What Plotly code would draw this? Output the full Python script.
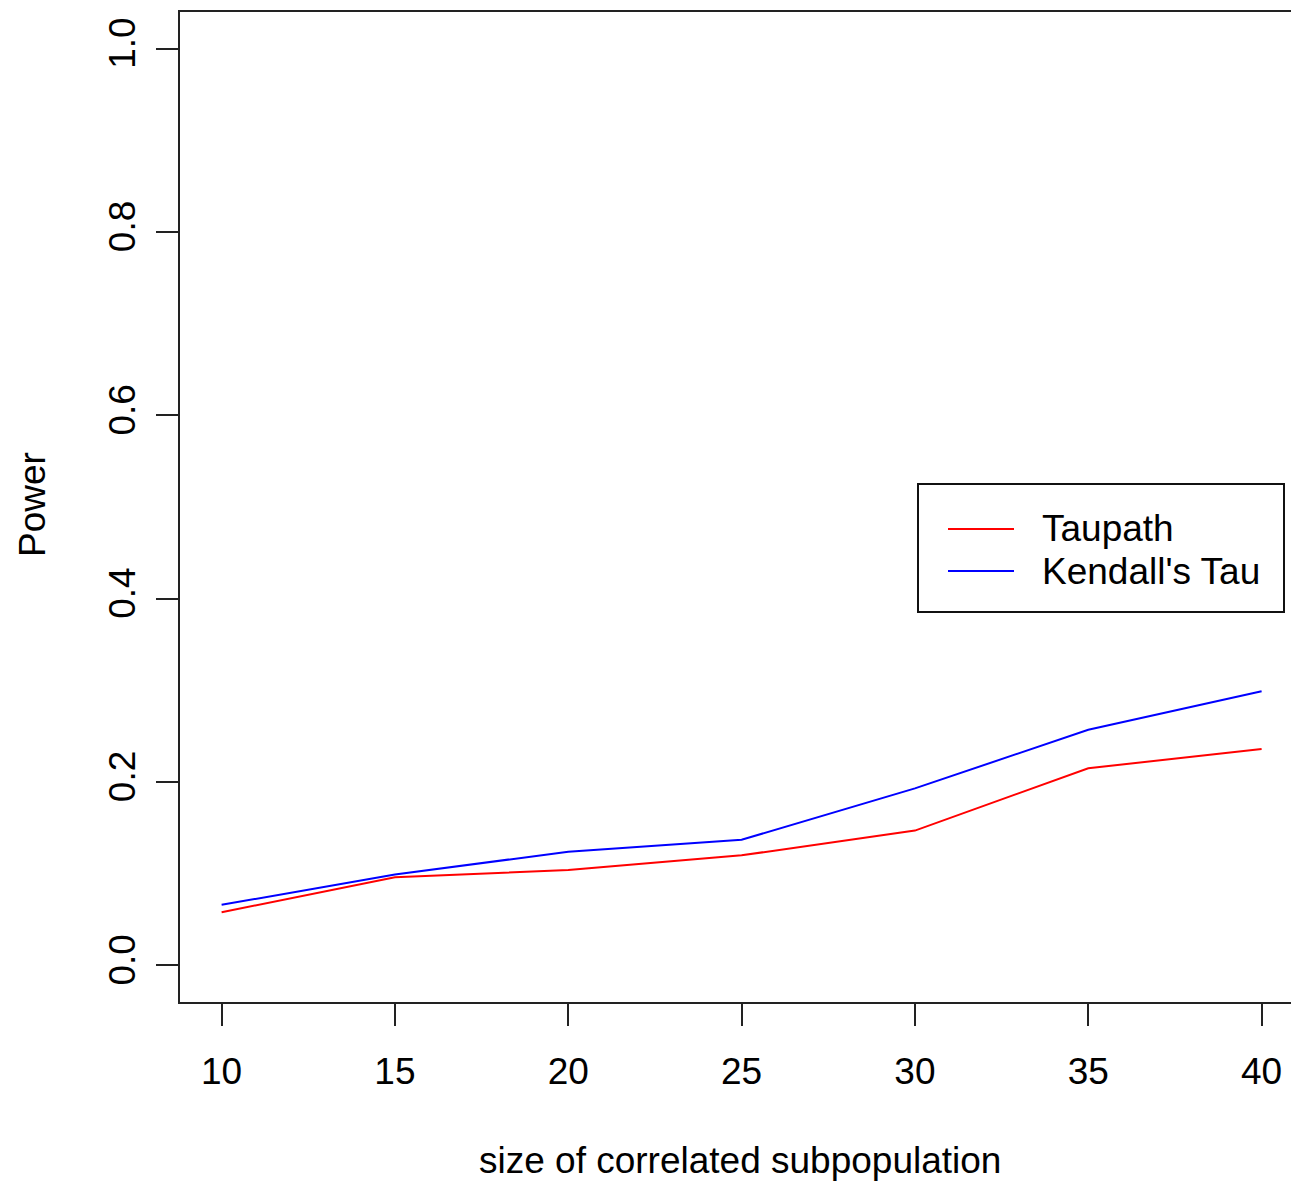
import plotly.graph_objects as go

# Power of the two tests versus size of the correlated subpopulation
subpop_size = [10, 15, 20, 25, 30, 35, 40]
power_taupath = [0.058, 0.096, 0.104, 0.120, 0.147, 0.215, 0.236]
power_kendall = [0.066, 0.099, 0.124, 0.137, 0.193, 0.257, 0.299]
series_names = ["Taupath", "Kendall's Tau"]
series_colors = ["#ff0000", "#0000ff"]
y_ticks = [0.0, 0.2, 0.4, 0.6, 0.8, 1.0]
y_tick_text = ["0.0", "0.2", "0.4", "0.6", "0.8", "1.0"]

W, H = 1291, 1181
L, R, T, B = 180, 0, 12, 179
PW, PH = W - L - R, H - T - B
FONT = dict(family="Liberation Sans, Arial, sans-serif", size=37, color="#000000")


def px_x(px):
    return (px - L) / PW


def px_y(py):
    return (H - B - py) / PH


fig = go.Figure()
for vals, name, col in zip([power_taupath, power_kendall], series_names, series_colors):
    fig.add_trace(go.Scatter(x=subpop_size, y=vals, mode="lines", name=name,
                             line=dict(color=col, width=2), showlegend=False))

axis_common = dict(showgrid=False, zeroline=False, showline=True, linecolor="#222222",
                   linewidth=2, ticks="outside", ticklen=22, tickwidth=2,
                   tickcolor="#222222", tickfont=FONT)

fig.update_xaxes(range=[8.8, 8.8 + PW / 34.667], tickvals=subpop_size,
                 mirror=True, ticklabelstandoff=14, **axis_common)
fig.update_yaxes(range=[-0.04, 1.04], tickvals=y_ticks, ticktext=y_tick_text,
                 tickangle=-90, ticklabelstandoff=6, **axis_common)

# legend box drawn by hand
lx0, lx1, ly0, ly1 = 918, 1284, 484, 612
fig.add_shape(type="rect", xref="paper", yref="paper",
              x0=px_x(lx0), x1=px_x(lx1), y0=px_y(ly1), y1=px_y(ly0),
              line=dict(color="#111111", width=2), fillcolor="white")
for i, (name, col) in enumerate(zip(series_names, series_colors)):
    yy = 529 + i * 42
    fig.add_shape(type="line", xref="paper", yref="paper",
                  x0=px_x(948), x1=px_x(1014), y0=px_y(yy), y1=px_y(yy),
                  line=dict(color=col, width=2))
    fig.add_annotation(xref="paper", yref="paper", x=px_x(1040), y=px_y(yy),
                       text=name, showarrow=False, xanchor="left", yanchor="middle",
                       font=FONT)

fig.add_annotation(xref="paper", yref="paper", x=px_x(740), y=px_y(1160),
                   text="size of correlated subpopulation", showarrow=False,
                   xanchor="center", yanchor="middle", font=FONT)
fig.add_annotation(xref="paper", yref="paper", x=px_x(32), y=px_y(505),
                   text="Power", showarrow=False, textangle=-90,
                   xanchor="center", yanchor="middle", font=FONT)

fig.update_layout(width=W, height=H, margin=dict(l=L, r=R, t=T, b=B, autoexpand=False),
                  plot_bgcolor="white", paper_bgcolor="white", showlegend=False)

fig.write_html("out.html")
